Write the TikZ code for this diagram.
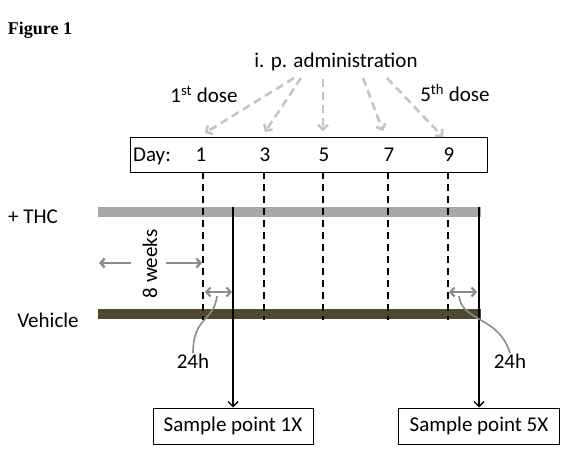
\documentclass[tikz,border=0pt]{standalone}
\usepackage{fontspec}
\setmainfont{Carlito}
\newfontfamily\figfont{Liberation Serif}
\usetikzlibrary{arrows.meta}
\definecolor{thcgray}{RGB}{168,168,168}
\definecolor{vehcol}{RGB}{79,71,49}
\definecolor{admgray}{RGB}{196,196,196}
\definecolor{arrgray}{RGB}{140,140,140}
\begin{document}
\begin{tikzpicture}[x=1pt,y=-1pt,
  lbl/.style={font=\fontsize{21}{25}\selectfont, inner sep=0pt},
  blbl/.style={lbl, anchor=base},
  admarr/.style={admgray, line width=2.6pt, dash pattern=on 8pt off 5pt, -{Straight Barb[length=4.5pt,width=10pt]}},
  grayarr/.style={arrgray, line width=2.4pt, -{Straight Barb[length=4pt,width=9pt]}},
  dblarr/.style={arrgray, line width=2.2pt, {Straight Barb[length=4pt,width=9pt]}-{Straight Barb[length=4pt,width=9pt]}},
  curveln/.style={arrgray, line width=1.6pt},
  dayline/.style={black, line width=1.8pt, dash pattern=on 7pt off 5pt},
  samplearr/.style={black, line width=1.4pt, -{Straight Barb[length=5pt,width=10pt]}},
  boxnode/.style={draw, line width=1pt, inner sep=0pt}]
\useasboundingbox (0,0) rectangle (570,457);

% title
\node[inner sep=0pt, font=\figfont\bfseries\fontsize{18}{21}\selectfont] (fig) at (40,30) {Figure 1};

% administration labels
\node[blbl] (adm) at (336,68) {i. p. administration};
\node[blbl] (first) at (204,103) {1\textsuperscript{st} dose};
\node[blbl] (fifth) at (455,102) {5\textsuperscript{th} dose};

% day box
\node[boxnode, minimum width=357pt, minimum height=35pt, anchor=north west] (daybox) at (130,137) {};
\node[blbl] (day) at (152,162) {Day:};
\node[blbl] (n1) at (201,162) {1};
\node[blbl] (n3) at (265,162) {3};
\node[blbl] (n5) at (324,162) {5};
\node[blbl] (n7) at (389,162) {7};
\node[blbl] (n9) at (449,162) {9};

% administration arrows
\coordinate (a1s) at (294,78); \coordinate (a1e) at (205,133);
\coordinate (a2s) at (301,78); \coordinate (a2e) at (265,132);
\coordinate (a3s) at (323,79); \coordinate (a3e) at (323,131);
\coordinate (a4s) at (363,78); \coordinate (a4e) at (383,131);
\coordinate (a5s) at (387,78); \coordinate (a5e) at (443,137);
\draw[admarr] (a1s) -- (a1e);
\draw[admarr] (a2s) -- (a2e);
\draw[admarr] (a3s) -- (a3e);
\draw[admarr] (a4s) -- (a4e);
\draw[admarr] (a5s) -- (a5e);

% group labels
\node[blbl] (thc) at (33,223) {+ THC};
\node[blbl] (veh) at (48,327) {Vehicle};

% bars
\coordinate (thcL) at (98,212); \coordinate (thcR) at (481,212);
\coordinate (vehL) at (98,314); \coordinate (vehR) at (481,314);
\draw[thcgray, line width=10pt] (thcL) -- (thcR);
\draw[vehcol, line width=10pt] (vehL) -- (vehR);

% dashed day lines
\coordinate (v1t) at (203,172); \coordinate (v1b) at (203,320);
\coordinate (v3t) at (264,172); \coordinate (v3b) at (264,320);
\coordinate (v5t) at (323,172); \coordinate (v5b) at (323,320);
\coordinate (v7t) at (388,172); \coordinate (v7b) at (388,320);
\coordinate (v9t) at (448,172); \coordinate (v9b) at (448,320);
\draw[dayline] (v1t) -- (v1b);
\draw[dayline] (v3t) -- (v3b);
\draw[dayline] (v5t) -- (v5b);
\draw[dayline] (v7t) -- (v7b);
\draw[dayline] (v9t) -- (v9b);

% 8 weeks
\node[lbl, rotate=90] (weeks) at (150,264) {8 weeks};
\coordinate (wl1) at (131,263); \coordinate (wl2) at (99,263);
\coordinate (wr1) at (166,263); \coordinate (wr2) at (202,263);
\draw[grayarr] (wl1) -- (wl2);
\draw[grayarr] (wr1) -- (wr2);

% sample boxes and arrows
\node[boxnode, minimum width=160pt, minimum height=36pt, font=\fontsize{21}{25}\selectfont] (sb1) at (233,426) {Sample point 1X};
\node[boxnode, minimum width=161pt, minimum height=36pt, font=\fontsize{21}{25}\selectfont] (sb5) at (479,426) {Sample point 5X};
\coordinate (s1top) at (233,207);
\coordinate (s5top) at (479,207);
\draw[samplearr] (s1top) -- (sb1.north);
\draw[samplearr] (s5top) -- (sb5.north);

% 24h markers
\coordinate (h1a) at (205,292); \coordinate (h1b) at (232,292);
\coordinate (h5a) at (449,292); \coordinate (h5b) at (477,292);
\draw[dblarr] (h1a) -- (h1b);
\draw[dblarr] (h5a) -- (h5b);
\node[blbl] (h24a) at (193,368) {24h};
\node[blbl] (h24b) at (510,368) {24h};
\coordinate (c1s) at (217,296);
\coordinate (c5s) at (459,296);
\draw[curveln] (c1s) .. controls (214,322) and (193,316) .. (h24a.north);
\draw[curveln] (c5s) .. controls (462,322) and (499,316) .. (h24b.north);
\end{tikzpicture}
\end{document}
